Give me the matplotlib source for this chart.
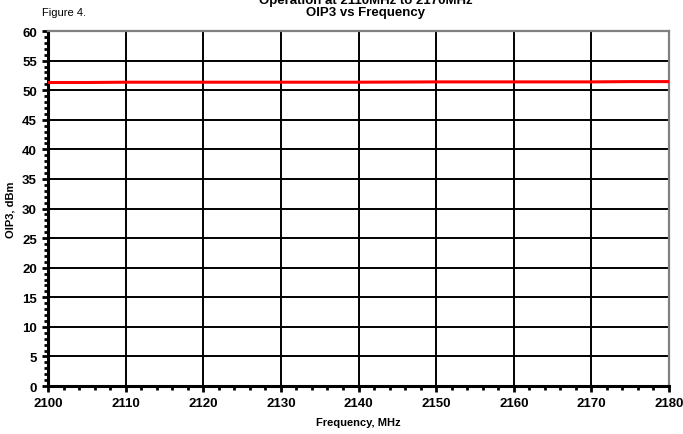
import matplotlib
matplotlib.use("Agg")
import matplotlib.pyplot as plt
from matplotlib.ticker import MultipleLocator

plt.rcParams['font.family'] = ['Liberation Sans', 'DejaVu Sans']

# OIP3 measurement across the band
freq_mhz = [2100, 2105, 2110, 2120, 2130, 2140, 2150, 2160, 2170, 2175, 2180]
oip3_dbm = [51.3, 51.3, 51.35, 51.35, 51.35, 51.35, 51.4, 51.4, 51.4, 51.45, 51.45]

fig = plt.figure(figsize=(6.83, 4.35), dpi=100)
ax = fig.add_axes([0.0703, 0.1103, 0.9092, 0.8161])

ax.plot(freq_mhz, oip3_dbm, color="#ff0000", lw=2.2, zorder=3)

ax.set_xlim(2100, 2180)
ax.set_ylim(0, 60)
ax.xaxis.set_major_locator(MultipleLocator(10))
ax.xaxis.set_minor_locator(MultipleLocator(2))
ax.yaxis.set_major_locator(MultipleLocator(5))
ax.yaxis.set_minor_locator(MultipleLocator(1))
ax.grid(True, which="major", color="black", lw=1.4)

ax.tick_params(which="both", direction="out", width=2, color="black")
ax.tick_params(which="major", length=4, labelsize=9.5, pad=4)
ax.tick_params(which="minor", length=3)
for lab in ax.get_xticklabels() + ax.get_yticklabels():
    lab.set_fontweight("bold")

ax.spines["left"].set_linewidth(2.2)
ax.spines["bottom"].set_linewidth(2.2)
ax.spines["right"].set_color("#808080")
ax.spines["top"].set_color("#808080")
ax.spines["right"].set_linewidth(1.6)
ax.spines["top"].set_linewidth(1.6)

ax.set_xlabel("Frequency, MHz", fontsize=8, fontweight="bold", labelpad=6)
ax.set_ylabel("OIP3, dBm", fontsize=8, fontweight="bold", labelpad=5)

fig.text(0.535, 0.997, "Operation at 2110MHz to 2170MHz", ha="center", va="center",
         fontsize=9.5, fontweight="bold")
fig.text(0.535, 0.970, "OIP3 vs Frequency", ha="center", va="center",
         fontsize=9.5, fontweight="bold")
fig.text(0.062, 0.970, "Figure 4.", ha="left", va="center", fontsize=8)

fig.savefig("out.png", dpi=100)
